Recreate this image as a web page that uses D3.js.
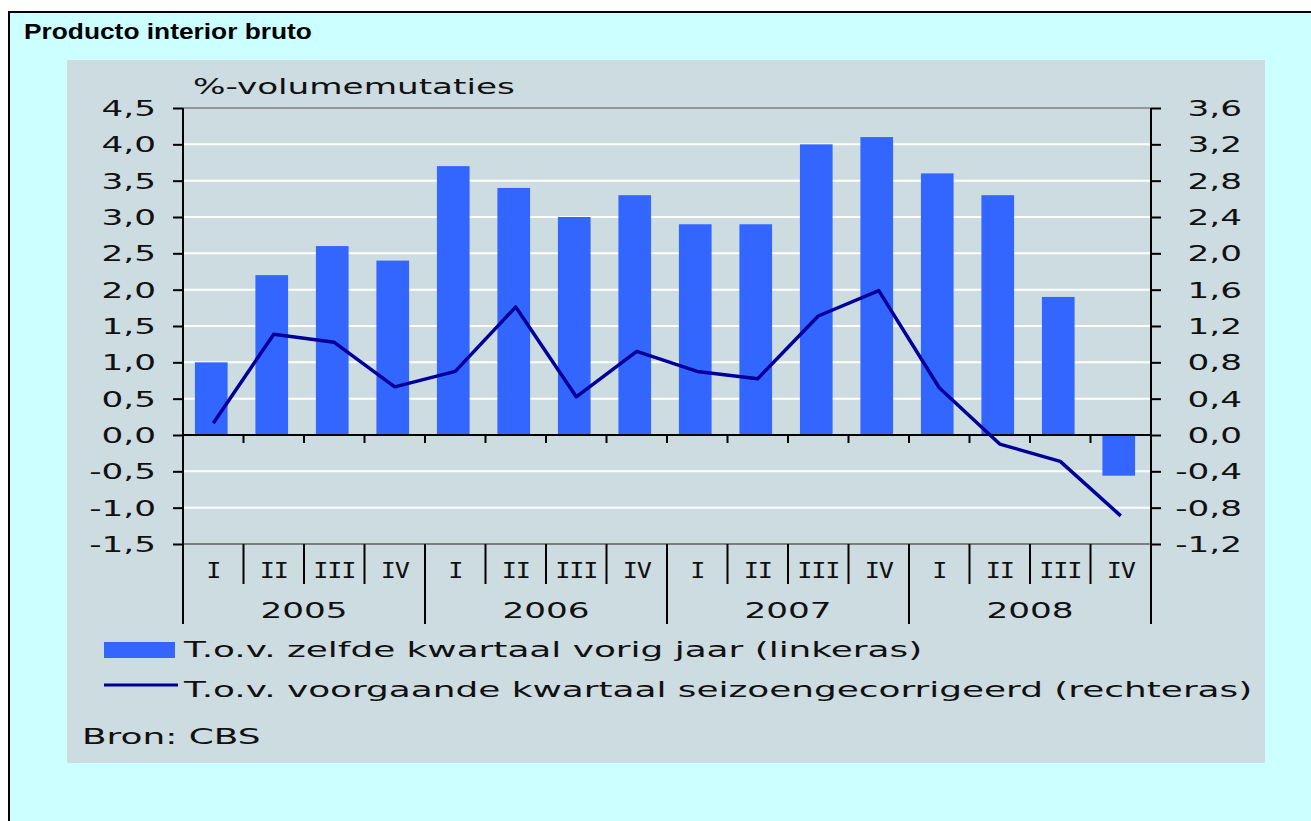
<!DOCTYPE html>
<html>
<head>
<meta charset="utf-8">
<script src="https://cdn.jsdelivr.net/npm/d3@7"></script>
<style>
  body { margin: 0; background: #fff; }
  svg { display: block; }
</style>
</head>
<body>
<div id="chart"></div>
<script>
// data
var quarters = ["I", "II", "III", "IV", "I", "II", "III", "IV", "I", "II", "III", "IV", "I", "II", "III", "IV"];
var years = ["2005", "2006", "2007", "2008"];
var yoy = [1.0, 2.2, 2.6, 2.4, 3.7, 3.4, 3.0, 3.3, 2.9, 2.9, 4.0, 4.1, 3.6, 3.3, 1.9, -0.56]; // linkeras
var qoq = [0.13, 1.11, 1.02, 0.53, 0.7, 1.41, 0.42, 0.92, 0.7, 0.62, 1.31, 1.59, 0.52, -0.1, -0.29, -0.89]; // rechteras
var leftTicks = [-1.5, -1.0, -0.5, 0, 0.5, 1.0, 1.5, 2.0, 2.5, 3.0, 3.5, 4.0, 4.5];
var rightTicks = [-1.2, -0.8, -0.4, 0, 0.4, 0.8, 1.2, 1.6, 2.0, 2.4, 2.8, 3.2, 3.6];
var legendLabels = ["T.o.v. zelfde kwartaal vorig jaar (linkeras)",
                    "T.o.v. voorgaande kwartaal seizoengecorrigeerd (rechteras)"];

var W = 1311, H = 821;
var barColor = "#3366ff", lineColor = "#000099";
var SX = 1.63; // the original font is drawn wide
var fmt = function(v) { return d3.format(".1f")(v).replace(".", ",").replace("−", "-"); };

var svg = d3.select("#chart").append("svg")
    .attr("width", W).attr("height", H);

// outer frame
svg.append("rect")
    .attr("x", 9).attr("y", 12).attr("width", W + 20).attr("height", H + 20)
    .attr("fill", "#ccffff").attr("stroke", "#000").attr("stroke-width", 2);

svg.append("text")
    .attr("transform", "translate(24,39) scale(1.17,1)")
    .attr("font-family", "Liberation Sans, Arial, sans-serif")
    .attr("font-weight", "bold").attr("font-size", 22.5)
    .text("Producto interior bruto");

// inner panel
svg.append("rect")
    .attr("x", 67).attr("y", 60).attr("width", 1198).attr("height", 703)
    .attr("fill", "#cddce1");

var plot = { left: 183, right: 1151, top: 108, bottom: 544 };

var x = d3.scaleBand()
    .domain(d3.range(quarters.length))
    .range([plot.left, plot.right]);
var yL = d3.scaleLinear().domain([-1.5, 4.5]).range([plot.bottom, plot.top]);
var yR = d3.scaleLinear().domain([-1.2, 3.6]).range([plot.bottom, plot.top]);

function wideText(g, tx, ty, str, anchor, size, family) {
    return g.append("text")
        .attr("transform", "translate(" + tx + "," + ty + ") scale(" + SX + ",1)")
        .attr("text-anchor", anchor || "start")
        .attr("font-family", family || "DejaVu Sans, Verdana, sans-serif")
        .attr("font-size", size || 21)
        .attr("fill", "#111")
        .text(str);
}

// gridlines
svg.append("g").selectAll("line")
    .data(leftTicks.filter(function(d) { return d !== 0 && d !== 4.5 && d !== -1.5; }))
    .enter().append("line")
    .attr("x1", plot.left).attr("x2", plot.right)
    .attr("y1", function(d) { return yL(d); }).attr("y2", function(d) { return yL(d); })
    .attr("stroke", "#fff").attr("stroke-width", 2);

svg.append("line")
    .attr("x1", plot.left).attr("x2", plot.right)
    .attr("y1", plot.top).attr("y2", plot.top)
    .attr("stroke", "#808080").attr("stroke-width", 1.5);
svg.append("line")
    .attr("x1", plot.left).attr("x2", plot.right)
    .attr("y1", plot.bottom).attr("y2", plot.bottom)
    .attr("stroke", "#606060").attr("stroke-width", 1.5);

// bars
var bw = x.bandwidth() * 0.54;
svg.append("g").selectAll("rect")
    .data(yoy)
    .enter().append("rect")
    .attr("x", function(d, i) { return x(i) + x.bandwidth() / 2 - bw / 2 - 2; })
    .attr("width", bw)
    .attr("y", function(d) { return yL(Math.max(0, d)); })
    .attr("height", function(d) { return Math.abs(yL(d) - yL(0)); })
    .attr("fill", barColor);

// zero line with small ticks below
svg.append("line")
    .attr("x1", plot.left).attr("x2", plot.right)
    .attr("y1", yL(0)).attr("y2", yL(0))
    .attr("stroke", "#000").attr("stroke-width", 2);
svg.append("g").selectAll("line")
    .data(d3.range(1, quarters.length))
    .enter().append("line")
    .attr("x1", function(d) { return x(d); }).attr("x2", function(d) { return x(d); })
    .attr("y1", yL(0)).attr("y2", yL(0) + 8)
    .attr("stroke", "#000").attr("stroke-width", 2);

// line series
var line = d3.line()
    .x(function(d, i) { return x(i) + x.bandwidth() / 2; })
    .y(function(d) { return yR(d); });
svg.append("path")
    .datum(qoq)
    .attr("d", line)
    .attr("fill", "none")
    .attr("stroke", lineColor)
    .attr("stroke-width", 3.5)
    .attr("stroke-linejoin", "round");

// left axis
var gl = svg.append("g").attr("transform", "translate(" + plot.left + ",0)");
gl.call(d3.axisLeft(yL).tickValues(leftTicks).tickSize(10).tickFormat(function() { return ""; }));
gl.select(".domain").remove();
gl.selectAll(".tick line").attr("stroke", "#000").attr("stroke-width", 2);
leftTicks.forEach(function(v) {
    wideText(svg, 156, yL(v) + 8, fmt(v), "end");
});

// right axis
var gr = svg.append("g").attr("transform", "translate(" + plot.right + ",0)");
gr.call(d3.axisRight(yR).tickValues(rightTicks).tickSize(10).tickFormat(function() { return ""; }));
gr.select(".domain").remove();
gr.selectAll(".tick line").attr("stroke", "#000").attr("stroke-width", 2);
rightTicks.forEach(function(v) {
    wideText(svg, 1242, yR(v) + 8, fmt(v), "end");
});

// vertical axis lines, running down through the category area
[plot.left, plot.right].forEach(function(px) {
    svg.append("line")
        .attr("x1", px).attr("x2", px)
        .attr("y1", plot.top).attr("y2", 624)
        .attr("stroke", "#000").attr("stroke-width", 2);
});

// quarter and year dividers
svg.append("g").selectAll("line")
    .data(d3.range(1, quarters.length))
    .enter().append("line")
    .attr("x1", function(d) { return x(d); }).attr("x2", function(d) { return x(d); })
    .attr("y1", plot.bottom).attr("y2", function(d) { return d % 4 === 0 ? 624 : 584; })
    .attr("stroke", "#000").attr("stroke-width", 2);

quarters.forEach(function(q, i) {
    wideText(svg, x(i) + x.bandwidth() / 2, 578, q, "middle", 21, "DejaVu Sans Mono, monospace")
        .attr("transform", "translate(" + (x(i) + x.bandwidth() / 2) + ",578) scale(1.2,1)")
        .attr("letter-spacing", -1);
});
years.forEach(function(yr, i) {
    var cx = (x(i * 4) + x(i * 4 + 3) + x.bandwidth()) / 2;
    wideText(svg, cx, 618, yr, "middle");
});

// axis title
wideText(svg, 193, 94, "%-volumemutaties", "start");

// legend
svg.append("rect")
    .attr("x", 104).attr("y", 642).attr("width", 71).attr("height", 16)
    .attr("fill", barColor);
svg.append("line")
    .attr("x1", 104).attr("x2", 178).attr("y1", 685).attr("y2", 685)
    .attr("stroke", lineColor).attr("stroke-width", 3);
wideText(svg, 184, 657, legendLabels[0], "start", 22);
wideText(svg, 184, 697, legendLabels[1], "start", 22);

wideText(svg, 82, 744, "Bron: CBS", "start", 22);
</script>
</body>
</html>
